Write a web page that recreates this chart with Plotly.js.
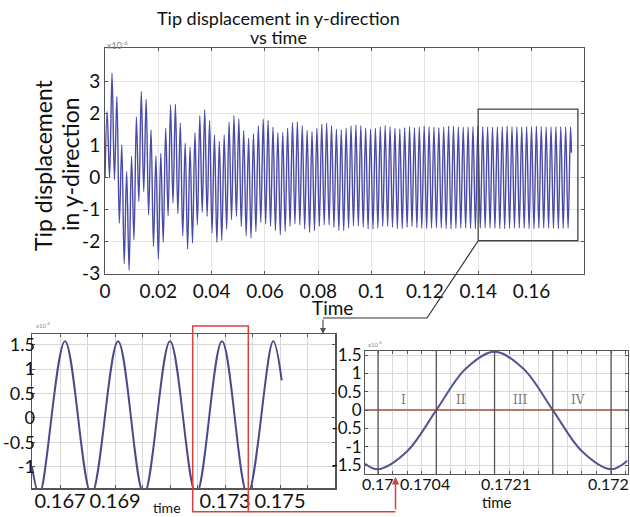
<!DOCTYPE html>
<html>
<head>
<meta charset="utf-8">
<script src="https://cdn.plot.ly/plotly-3.0.1.min.js"></script>
<style>html,body{margin:0;padding:0;background:#fff}#chart{width:630px;height:517px}</style>
</head>
<body>
<div id="chart"></div>
<script>
// ---------- DATA (units of 1e-6) ----------
// Main plot: successive peak and trough values of the tip displacement
const mainPeaks = [2.06, 3.26, 2.53, 1.02, 0.19, 0.66, 1.89, 2.69, 2.45, 1.49, 0.68, 0.76, 1.54, 2.27, 2.29, 1.70,
  1.07, 0.95, 1.39, 1.93, 2.12, 1.78, 1.33, 1.13, 1.33, 1.73, 1.93, 1.83, 1.47, 1.23, 1.37, 1.62,
  1.82, 1.78, 1.57, 1.41, 1.41, 1.54, 1.72, 1.74, 1.62, 1.47, 1.44, 1.54, 1.67, 1.70, 1.62, 1.51,
  1.49, 1.54, 1.62, 1.64, 1.62, 1.54, 1.51, 1.54, 1.59, 1.62, 1.59, 1.54, 1.52, 1.56, 1.59,
  1.56, 1.58, 1.60, 1.59, 1.57, 1.56, 1.58, 1.60, 1.60, 1.58, 1.57, 1.58, 1.59, 1.60, 1.59, 1.58,
  1.57, 1.58, 1.59, 1.60, 1.59, 1.58, 1.58, 1.59, 1.59, 1.60, 1.59, 1.58, 1.58, 1.59, 1.59, 1.58, 1.58];
const mainTroughs = [-0.02, -0.07, -1.43, -2.70, -2.90, -1.95, -0.75, -0.44, -1.17, -2.16, -2.55, -2.03, -1.20, -0.80, -1.13, -1.82,
  -2.24, -2.05, -1.48, -1.09, -1.22, -1.74, -2.03, -1.97, -1.61, -1.32, -1.22, -1.53, -1.82, -1.89, -1.69,
  -1.41, -1.45, -1.53, -1.66, -1.79, -1.69, -1.53, -1.45, -1.48, -1.61, -1.72, -1.66, -1.53, -1.48, -1.48, -1.56,
  -1.66, -1.66, -1.58, -1.51, -1.51, -1.56, -1.61, -1.61, -1.58, -1.53, -1.53, -1.56, -1.60, -1.60, -1.56, -1.53,
  -1.57, -1.59, -1.60, -1.58, -1.57, -1.58, -1.60, -1.61, -1.59, -1.58, -1.58, -1.60, -1.60, -1.59, -1.58, -1.58,
  -1.59, -1.60, -1.60, -1.59, -1.58, -1.58, -1.59, -1.60, -1.60, -1.59, -1.58, -1.58, -1.59, -1.60, -1.60, -1.59];
const mainStart = [0, 0.0];          // time, value
const mainEnd = [0.175, 0.77];       // time, value
const firstPeakTime = 0.0008;
const lastPeakTime = 0.17465;

// Bottom-left zoom: extrema of the steady oscillation
const blTime = [0.16598, 0.16625, 0.16718, 0.16814, 0.16911, 0.17005, 0.17100, 0.17195, 0.17289, 0.17382, 0.17475, 0.17506];
const blVal  = [-1.00, -1.57, 1.57, -1.57, 1.57, -1.57, 1.57, -1.57, 1.57, -1.57, 1.57, 0.77];
const blTickVals = [0.166, 0.167, 0.168, 0.169, 0.170, 0.171, 0.172, 0.173, 0.174, 0.175, 0.176, 0.177];
const blTickText = ['', '0.167', '', '0.169', '', '', '', '0.173', '', '0.175', '', ''];
const blYTickVals = [-1, -0.5, 0, 0.5, 1, 1.5];
const blYTickText = ['-1', '-0.5', '0', '0.5', '1', '1.5'];

// Bottom-right: one period split into quadrants I..IV
const brTime = [0.169888, 0.17, 0.17025, 0.1705, 0.17075, 0.171, 0.17125, 0.1715, 0.17175, 0.172, 0.17214];
const brVal  = [-1.46, -1.61, -1.12, 0.0, 1.12, 1.59, 1.12, 0.0, -1.12, -1.61, -1.38];
const quarterBounds = [0.17, 0.1705, 0.171, 0.1715, 0.172];
const quarterNames = ['I', 'II', 'III', 'IV'];
const brTickVals = [0.17, 0.1704, 0.1711, 0.172];
const brTickText = ['0.17', '0.1704', '0.1721', '0.172'];
const brYTickVals = [-1.5, -1, -0.5, 0, 0.5, 1, 1.5];
const brYTickText = ['-1.5', '-1', '-0.5', '0', '0.5', '1', '1.5'];

const mainXTicks = [0, 0.02, 0.04, 0.06, 0.08, 0.1, 0.12, 0.14, 0.16];
const mainYTicks = [-3, -2, -1, 0, 1, 2, 3];
const mainYText = ['-3', '-2', '-1', '0', '1', '2', '3'];

// ---------- BUILD ----------
const halfStep = (lastPeakTime - firstPeakTime) / (2 * (mainPeaks.length - 1));
const mx = [mainStart[0]], my = [mainStart[1]];
for (let k = 0; k < mainPeaks.length + mainTroughs.length; k++) {
  mx.push(firstPeakTime + k * halfStep);
  my.push(k % 2 === 0 ? mainPeaks[k / 2] : mainTroughs[(k - 1) / 2]);
}
mx.push(mainEnd[0]); my.push(mainEnd[1]);

const W = 630, H = 517;
const px = v => v / W, py = v => 1 - v / H;
const FONT = 'Lato, "Open Sans", sans-serif';
const grid = '#e4e4e4';
const frame = '#555';

const traces = [
  {x: mx, y: my, xaxis: 'x', yaxis: 'y', mode: 'lines', line: {color: '#4a4aa8', width: 1.4, shape: 'spline'}, hoverinfo: 'skip'},
  {x: blTime, y: blVal, xaxis: 'x2', yaxis: 'y2', mode: 'lines', line: {color: '#4a4a8c', width: 2, shape: 'spline'}, hoverinfo: 'skip'},
  {x: brTime, y: brVal, xaxis: 'x3', yaxis: 'y3', mode: 'lines', line: {color: '#55558f', width: 2, shape: 'spline'}, hoverinfo: 'skip'}
];

const shapes = [];
shapes.push({type: 'rect', xref: 'x', yref: 'y', x0: 0.14, x1: 0.1774, y0: -1.98, y1: 2.14, line: {color: '#444', width: 1.3}});
shapes.push({type: 'path', xref: 'paper', yref: 'paper',
  path: `M ${px(478)},${py(241)} L ${px(427)},${py(318)} L ${px(323)},${py(318)}`, line: {color: '#333', width: 1.2}});
shapes.push({type: 'rect', xref: 'paper', yref: 'paper', x0: px(192.7), x1: px(248.3), y0: py(511.7), y1: py(326), line: {color: '#d9413f', width: 1.5}});
shapes.push({type: 'line', xref: 'paper', yref: 'paper', x0: px(248.3), x1: px(395.5), y0: py(511.7), y1: py(511.7), line: {color: '#d9413f', width: 1.5}});
quarterBounds.forEach(q => shapes.push({type: 'line', xref: 'x3', yref: 'y3 domain', x0: q, x1: q, y0: 0, y1: 1, line: {color: '#555', width: 1.3}}));

const ann = [];
function txt(text, x, y, size, extra) {
  ann.push(Object.assign({text: text, x: px(x), y: py(y), xref: 'paper', yref: 'paper', xanchor: 'center', yanchor: 'middle',
    showarrow: false, font: {family: FONT, size: size, color: '#111'}}, extra || {}));
}
txt('Tip displacement in y-direction', 278, 18, 18);
txt('vs time', 278, 37, 18);
txt('Tip displacement', 43, 165, 23, {textangle: -90});
txt('in y-direction', 70, 164, 23, {textangle: -90});
txt('Time', 332, 307, 19);
txt('time', 167, 508, 14);
txt('time', 497, 502, 15);
txt('x10<sup>-6</sup>', 105, 45, 9, {xanchor: 'left', font: {family: FONT, size: 9, color: '#888'}});
txt('x10<sup>-6</sup>', 34, 325, 6, {xanchor: 'left', font: {family: FONT, size: 6, color: '#888'}});
txt('x10<sup>-6</sup>', 366, 344, 6, {xanchor: 'left', font: {family: FONT, size: 6, color: '#888'}});
quarterNames.forEach((n, i) => ann.push({text: n, x: (quarterBounds[i] + quarterBounds[i + 1]) / 2, y: 0, xref: 'x3', yref: 'y3',
  xshift: -4, xanchor: 'center', yanchor: 'bottom', yshift: 1, showarrow: false, font: {family: 'DejaVu Serif, serif', size: 12, color: '#777'}}));
brTickVals.forEach((v, i) => ann.push({text: brTickText[i], x: v, y: py(483), xref: 'x3', yref: 'paper', xanchor: 'center', yanchor: 'middle',
  xshift: i === brTickVals.length - 1 ? -3 : 0, showarrow: false, font: {family: FONT, size: 16, color: '#111'}}));
ann.push({text: '', x: px(323), y: py(334), xref: 'paper', yref: 'paper', showarrow: true, ax: 0, ay: -16, arrowhead: 2, arrowsize: 1, arrowwidth: 1.2, arrowcolor: '#555'});
ann.push({text: '', x: px(395.5), y: py(477), xref: 'paper', yref: 'paper', showarrow: true, ax: 0, ay: 34, arrowhead: 2, arrowsize: 1, arrowwidth: 1.5, arrowcolor: '#d9413f'});

const axBase = {showline: true, mirror: 'ticks', linecolor: frame, linewidth: 1, gridcolor: grid, zeroline: false,
  ticks: 'inside', ticklen: 3, tickcolor: frame, tickfont: {family: FONT, size: 19, color: '#111'}};

const layout = {
  width: W, height: H, margin: {l: 0, r: 0, t: 0, b: 0}, paper_bgcolor: '#fff', plot_bgcolor: '#fff', showlegend: false,
  xaxis: Object.assign({}, axBase, {domain: [px(105), px(584)], anchor: 'y', range: [0, 0.1797], tickmode: 'array', tickvals: mainXTicks}),
  yaxis: Object.assign({}, axBase, {domain: [py(274), py(48)], anchor: 'x', range: [-3.02, 4.05], tickmode: 'array', tickvals: mainYTicks, ticktext: mainYText}),
  xaxis2: Object.assign({}, axBase, {domain: [px(32), px(335)], anchor: 'y2', range: [0.16598, 0.177], tickmode: 'array', tickvals: blTickVals, ticktext: blTickText, gridcolor: '#d8d8d8', tickfont: {family: FONT, size: 20, color: '#111'}, linewidth: 1.5, ticklabelstandoff: -6}),
  yaxis2: Object.assign({}, axBase, {domain: [py(488), py(334)], anchor: 'x2', range: [-1.44, 1.72], tickmode: 'array', tickvals: blYTickVals, ticktext: blYTickText, gridcolor: '#d8d8d8', tickfont: {family: FONT, size: 18, color: '#111'}, linewidth: 1.5, ticklabelstandoff: -8}),
  xaxis3: Object.assign({}, axBase, {domain: [px(365), px(627.7)], anchor: 'y3', range: [0.169888, 0.172143], tickmode: 'linear', tick0: 0.17, dtick: 0.000125, showticklabels: false, gridcolor: '#dadada'}),
  yaxis3: Object.assign({}, axBase, {domain: [py(474), py(351)], anchor: 'x3', range: [-1.74, 1.61], tickmode: 'array', tickvals: brYTickVals, ticktext: brYTickText, gridcolor: '#dadada', zeroline: true, zerolinecolor: '#b9776e', zerolinewidth: 1.5, tickfont: {family: FONT, size: 17, color: '#111'}, ticklabelstandoff: -1}),
  shapes: shapes,
  annotations: ann
};

Plotly.newPlot('chart', traces, layout, {staticPlot: true, displayModeBar: false});
</script>
</body>
</html>
